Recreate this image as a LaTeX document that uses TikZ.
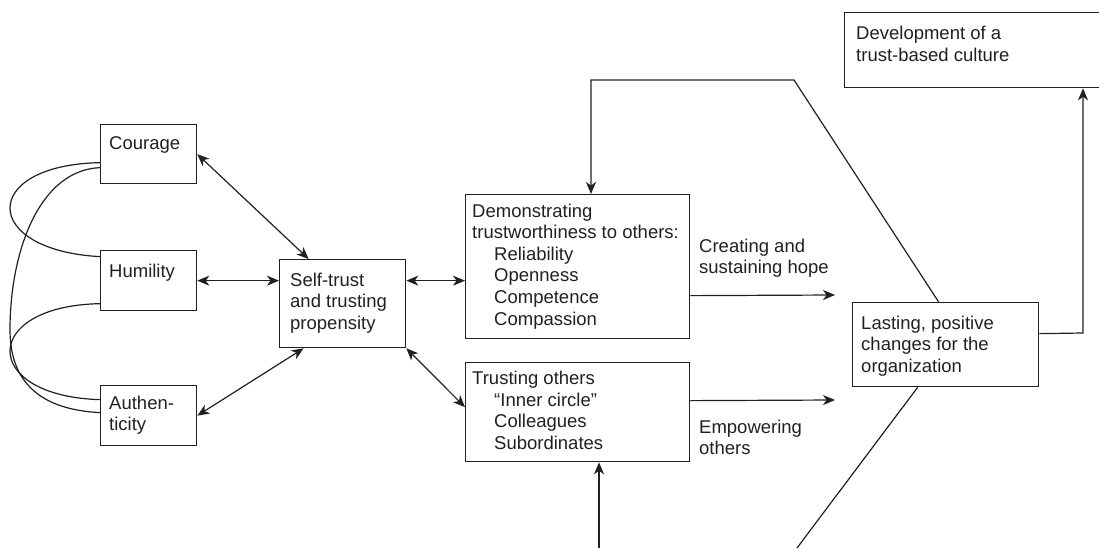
\documentclass[tikz,border=0pt]{standalone}
\usepackage{fontspec}
\setmainfont{Liberation Sans}
\usetikzlibrary{arrows.meta}
\definecolor{ink}{RGB}{35,31,32}
\begin{document}
\begin{tikzpicture}[x=1pt,y=-1pt, color=ink,
  box/.style={draw=ink, line width=1.3pt, rectangle, inner sep=0pt, anchor=north west},
  txt/.style={anchor=base west, align=left, inner sep=0pt, text=ink, font=\fontsize{18.5}{21.7}\selectfont},
  conn/.style={draw=ink, line width=1.2pt},
  tip/.tip={Stealth[length=12pt,width=10pt,inset=3.5pt]},
  arr/.style={conn,-tip},
  darr/.style={conn,tip-tip}]
\clip (0,0) rectangle (1099,548);
% boxes
\node[box, minimum width=96, minimum height=59] (cour) at (100,124) {};
\node[box, minimum width=96, minimum height=60] (hum) at (100,250) {};
\node[box, minimum width=96, minimum height=60] (auth) at (100,385) {};
\node[box, minimum width=126, minimum height=88] (self) at (279,259) {};
\node[box, minimum width=224, minimum height=144] (demo) at (465,194) {};
\node[box, minimum width=224, minimum height=99] (trust) at (465,362) {};
\node[box, minimum width=186, minimum height=84] (last) at (852,302) {};
\node[box, minimum width=270, minimum height=75] (dev) at (844,12) {};
% texts (anchor = baseline of the last line)
\node[txt] (tcour) at (109,150) {Courage};
\node[txt] (thum) at (109,277) {Humility};
\node[txt] (tauth) at (109,430.7) {Authen-\\ticity};
\node[txt] (tself) at (290,329.4) {Self-trust\\and trusting\\propensity};
\node[txt] (tdemo) at (472,238.7) {Demonstrating\\trustworthiness to others:};
\node[txt] (tdemoi) at (494,325.1) {Reliability\\Openness\\Competence\\Compassion};
\node[txt] (ttrust) at (472,384) {Trusting others};
\node[txt] (ttrusti) at (494,449.4) {“Inner circle”\\Colleagues\\Subordinates};
\node[txt] (thope) at (699,273.7) {Creating and\\sustaining hope};
\node[txt] (temp) at (699,454.7) {Empowering\\others};
\node[txt] (tdev) at (856,61.7) {Development of a\\trust-based culture};
\node[txt] (tlast) at (861,372.4) {Lasting, positive\\changes for the\\organization};
% curves on the left
\draw[conn] ([yshift=-8.5pt]cour.west) .. controls (-20,165) and (-20,250) .. ([yshift=24pt]hum.west);
\draw[conn] ([yshift=-13.5pt]cour.west) .. controls (40,170) and (10,250) .. (10,330) .. controls (10,390) and (50,410) .. ([yshift=3pt]auth.west);
\draw[conn] ([yshift=-23pt]hum.west) .. controls (-20,306) and (-20,396) .. ([yshift=16pt]auth.west);
% double arrows
\draw[darr] (cour.east) -- ([xshift=-34pt]self.north);
\draw[darr] (hum.east) -- (self.west |- hum.east);
\draw[darr] (auth.east) -- ([xshift=-39pt]self.south);
\draw[darr] (self.east |- hum.east) -- (demo.west |- hum.east);
\draw[darr] (self.south east) -- ([yshift=5pt]trust.west);
% outputs
\coordinate (hopeend) at (835,295);
\coordinate (empend) at (835,400);
\draw[arr] ([yshift=-29pt]demo.east) -- (hopeend);
\draw[arr] ([yshift=11.5pt]trust.east) -- (empend);
% feedback top
\coordinate (tc) at (794,80);
\coordinate (tl) at (591,80);
\draw[arr] ([xshift=-7pt]last.north) -- (tc) -- (tl) -- (tl |- demo.north);
% bottom
\coordinate (bl) at (599,548);
\coordinate (br) at (797,548);
\draw[arr] (bl) -- (bl |- trust.south);
\draw[conn] ([xshift=-28pt]last.south) -- (br);
% to development
\coordinate (rc) at (1083,333);
\draw[arr] ([yshift=11pt]last.east) -- (rc) -- (rc |- dev.south);
\end{tikzpicture}
\end{document}
